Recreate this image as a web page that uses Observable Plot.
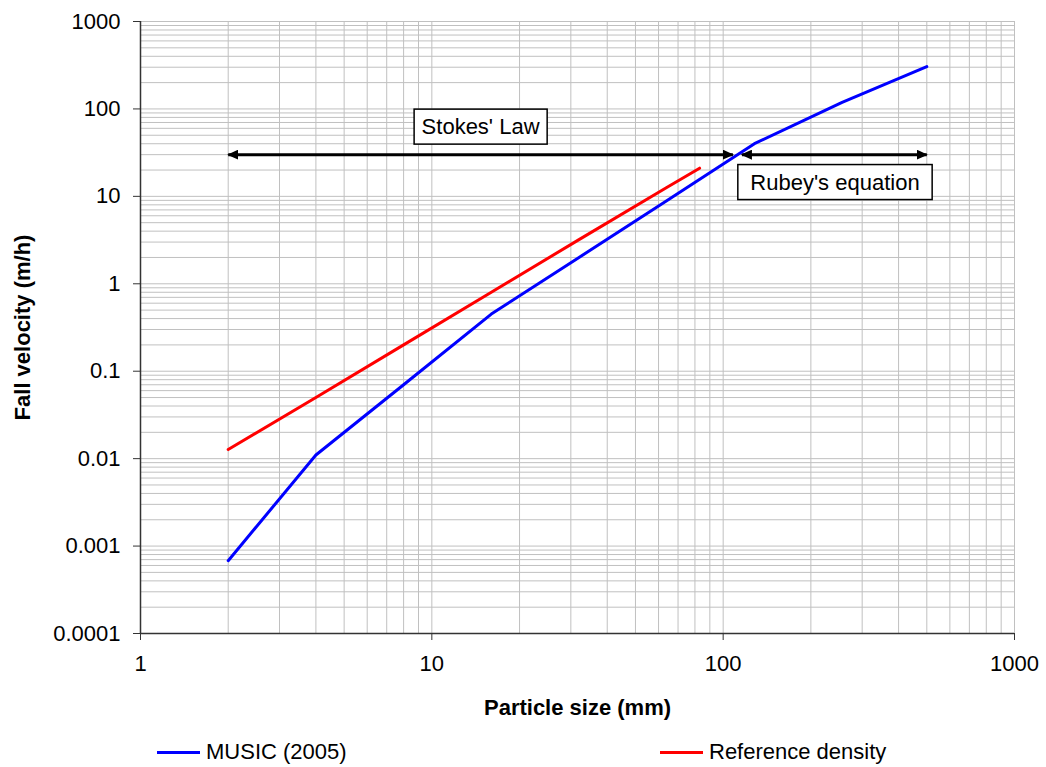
<!DOCTYPE html>
<html>
<head>
<meta charset="utf-8">
<script src="https://cdn.jsdelivr.net/npm/d3@7"></script>
<script src="https://cdn.jsdelivr.net/npm/@observablehq/plot@0.6"></script>
<style>
  html, body { margin: 0; padding: 0; background: #fff; }
  body { font-family: "Liberation Sans", Arial, sans-serif; width: 1046px; }
  #legend { position: relative; width: 1046px; height: 37px; font-size: 22px; color: #000; }
  #legend .item { position: absolute; top: 10px; height: 24px; display: flex; align-items: center; white-space: nowrap; }
  #legend .sw { width: 43px; height: 3px; margin-right: 6px; }
</style>
</head>
<body>
<div id="chart"></div>
<div id="legend"></div>
<script>
// ---- data ----
const sizeMusic = [2, 4, 8, 16, 32, 64, 128, 256, 500];
const velMusic  = [0.00068, 0.011, 0.07, 0.45, 2.0, 8.9, 40, 119, 305];
const sizeRef   = [2, 4, 8, 16, 32, 64, 83];
const velRef    = [0.0127, 0.05, 0.2, 0.8, 3.2, 12.6, 21];
const seriesNames  = ["MUSIC (2005)", "Reference density"];
const seriesColors = ["#0000ff", "#ff0000"];

const rangeLabels = ["Stokes' Law", "Rubey's equation"];
const rangeFrom   = [2, 116];
const rangeTo     = [108, 500];
const rangeVel    = [30, 30];
const labelSize   = [14.7, 242];
const labelVel    = [62, 14.4];

const xTicks = [1, 10, 100, 1000];
const xTickLabels = ["1", "10", "100", "1000"];
const yTicks = [0.0001, 0.001, 0.01, 0.1, 1, 10, 100, 1000];
const yTickLabels = ["0.0001", "0.001", "0.01", "0.1", "1", "10", "100", "1000"];
const xTitle = "Particle size (mm)";
const yTitle = "Fall velocity (m/h)";

// ---- derived tables ----
const music = sizeMusic.map((s, i) => ({size: s, vel: velMusic[i]}));
const ref = sizeRef.map((s, i) => ({size: s, vel: velRef[i]}));
const ranges = rangeLabels.map((l, i) => ({from: rangeFrom[i], to: rangeTo[i], v: rangeVel[i]}));
const labels = rangeLabels.map((l, i) => ({text: l, size: labelSize[i], vel: labelVel[i]}));
const minor = (majors) => majors.slice(0, -1).flatMap(d => d3.range(1, 10).map(k => +(d * k).toPrecision(6))).concat([majors[majors.length - 1]]);
const xGrid = minor(xTicks);
const yGrid = minor(yTicks);
const xFmt = new Map(xTicks.map((t, i) => [t, xTickLabels[i]]));
const yFmt = new Map(yTicks.map((t, i) => [t, yTickLabels[i]]));

const W = 1046, H = 730;
const plot = Plot.plot({
  width: W,
  height: H,
  marginLeft: 140,
  marginRight: 32,
  marginTop: 21,
  marginBottom: H - 633,
  style: {fontFamily: "'Liberation Sans', Arial, sans-serif", fontSize: "22px", color: "#000", background: "#fff"},
  x: {type: "log", domain: [xTicks[0], xTicks[xTicks.length - 1]]},
  y: {type: "log", domain: [yTicks[0], yTicks[yTicks.length - 1]]},
  marks: [
    Plot.gridX(xGrid, {stroke: "#c0c0c0", strokeOpacity: 1, strokeWidth: 1}),
    Plot.gridY(yGrid, {stroke: "#c0c0c0", strokeOpacity: 1, strokeWidth: 1}),
    Plot.ruleX([xTicks[0]], {stroke: "#333", strokeWidth: 1.5}),
    Plot.ruleY([yTicks[0]], {stroke: "#333", strokeWidth: 1.5}),
    Plot.axisX(xTicks, {tickSize: 7, tickPadding: 15, tickFormat: d => xFmt.get(d), label: null, stroke: "#333", fontSize: 22}),
    Plot.axisY(yTicks, {tickSize: 7, tickPadding: 13, tickFormat: d => yFmt.get(d), label: null, stroke: "#333", fontSize: 22}),
    Plot.link(ranges, {x1: "from", x2: "to", y1: "v", y2: "v", stroke: "#000", strokeWidth: 3}),
    Plot.line(music, {x: "size", y: "vel", stroke: seriesColors[0], strokeWidth: 3}),
    Plot.line(ref, {x: "size", y: "vel", stroke: seriesColors[1], strokeWidth: 3}),
    Plot.text(labels, {x: "size", y: "vel", text: "text", fontSize: 22, fill: "#000"}),
    Plot.text([xTitle], {frameAnchor: "bottom", dy: 74, textAnchor: "middle", lineAnchor: "middle", fontWeight: "bold", fontSize: 22, fill: "#000"}),
    Plot.text([yTitle], {frameAnchor: "left", dx: -118, rotate: -90, textAnchor: "middle", lineAnchor: "middle", fontWeight: "bold", fontSize: 22, fill: "#000"})
  ]
});
document.getElementById("chart").appendChild(plot);

// arrowheads on the range links
const svgNS = "http://www.w3.org/2000/svg";
const defs = document.createElementNS(svgNS, "defs");
const marker = document.createElementNS(svgNS, "marker");
marker.setAttribute("id", "ahead");
marker.setAttribute("viewBox", "0 0 11 10");
marker.setAttribute("refX", "10");
marker.setAttribute("refY", "5");
marker.setAttribute("markerWidth", "11");
marker.setAttribute("markerHeight", "10");
marker.setAttribute("markerUnits", "userSpaceOnUse");
marker.setAttribute("orient", "auto-start-reverse");
const mp = document.createElementNS(svgNS, "path");
mp.setAttribute("d", "M0,0L11,5L0,10Z");
mp.setAttribute("fill", "#000");
marker.appendChild(mp);
defs.appendChild(marker);
plot.insertBefore(defs, plot.firstChild);
plot.querySelectorAll('g[aria-label="link"] path, g[aria-label="link"] line').forEach(p => {
  p.setAttribute("marker-start", "url(#ahead)");
  p.setAttribute("marker-end", "url(#ahead)");
});

// boxes behind the annotation labels
const padX = [7.5, 12.5], padY = 5;
plot.querySelectorAll("text").forEach(t => {
  const k = rangeLabels.indexOf(t.textContent);
  if (k < 0) return;
  const b = t.getBBox();
  const r = document.createElementNS(svgNS, "rect");
  r.setAttribute("x", b.x - padX[k]);
  r.setAttribute("y", b.y - padY);
  r.setAttribute("width", b.width + 2 * padX[k]);
  r.setAttribute("height", b.height + 2 * padY);
  r.setAttribute("fill", "#fff");
  r.setAttribute("stroke", "#000");
  r.setAttribute("stroke-width", "1.5");
  if (t.getAttribute("transform")) r.setAttribute("transform", t.getAttribute("transform"));
  t.parentNode.insertBefore(r, t);
});

// legend
const legend = document.getElementById("legend");
const legendLeft = [157, 660];
seriesNames.forEach((name, i) => {
  const it = document.createElement("div");
  it.className = "item";
  it.style.left = legendLeft[i] + "px";
  const sw = document.createElement("span");
  sw.className = "sw";
  sw.style.background = seriesColors[i];
  const tx = document.createElement("span");
  tx.textContent = name;
  it.appendChild(sw);
  it.appendChild(tx);
  legend.appendChild(it);
});
</script>
</body>
</html>
